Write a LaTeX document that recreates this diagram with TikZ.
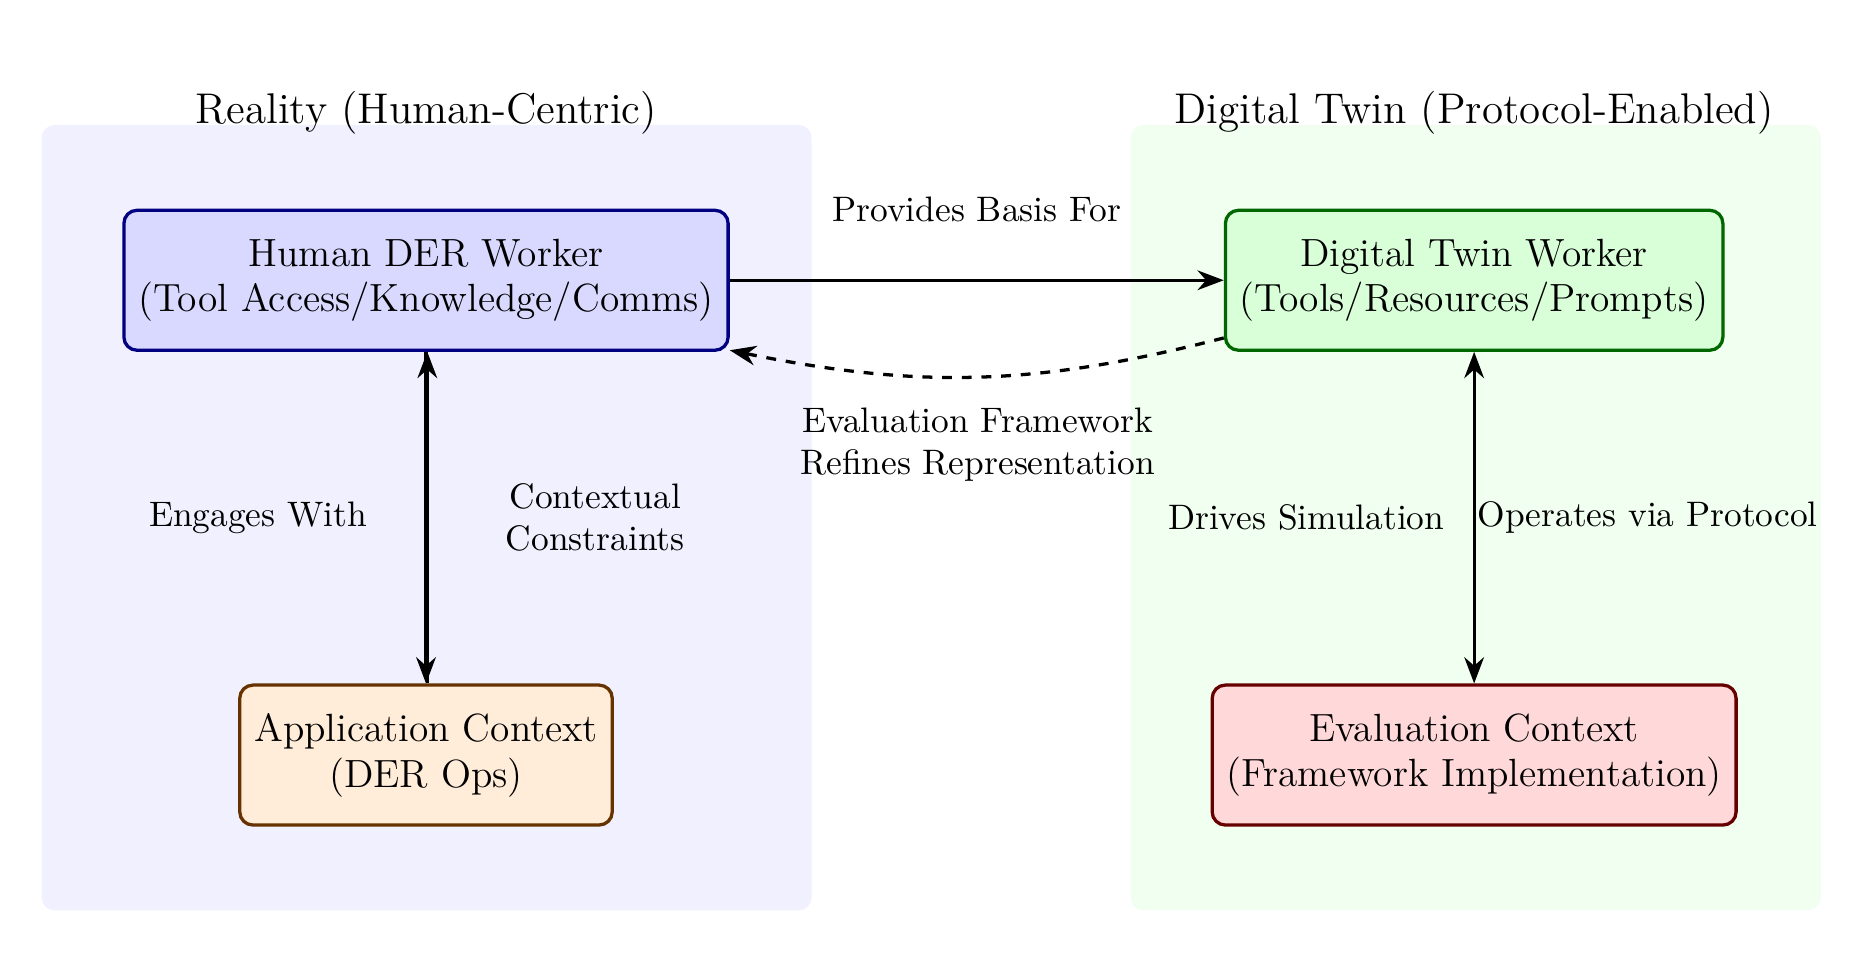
\documentclass[tikz,border=0pt]{standalone}
\usetikzlibrary{arrows.meta}
\begin{document}
\begin{tikzpicture}[
  box/.style={draw, rounded corners=4pt, line width=1pt, minimum height=1.5cm, inner xsep=4.4pt, align=center, font=\fontsize{12}{14}\selectfont},
  lbl/.style={font=\fontsize{10.8}{12.9}\selectfont, align=center},
  ttl/.style={font=\fontsize{13.1}{15.7}\selectfont},
  arr/.style={-{Stealth[length=8pt,width=6pt]}, line width=1pt},
  darr/.style={{Stealth[length=8pt,width=6pt]}-{Stealth[length=8pt,width=6pt]}, line width=1pt},
  bg/.style={rounded corners=4pt}
]
\useasboundingbox (0,0) rectangle (20,10.214);
% containers
\fill[bg, blue!6] (0.446,0.456) rectangle (8.699,8.875);
\fill[bg, green!6] (12.117,0.456) rectangle (19.515,8.875);
\node[ttl, anchor=base] (treal) at (4.57,8.89) {Reality (Human-Centric)};
\node[ttl, anchor=base] (tdt) at (15.80,8.89) {Digital Twin (Protocol-Enabled)};
% nodes
\node[box, fill=blue!15, draw=blue!50!black] (human) at (4.566,7.21) {Human DER Worker\\(Tool Access/Knowledge/Comms)};
\node[box, fill=green!15, draw=green!40!black] (dt) at (15.80,7.21) {Digital Twin Worker\\(Tools/Resources/Prompts)};
\node[box, fill=orange!15, draw=orange!40!black] (app) at (4.566,2.121) {Application Context\\(DER Ops)};
\node[box, fill=red!15, draw=red!40!black] (eval) at (15.80,2.121) {Evaluation Context\\(Framework Implementation)};
% connectors
\draw[arr] (human) -- node[lbl, yshift=0.76cm] {Provides Basis For} (dt);
\draw[arr, dashed] (dt) to[bend left=13] node[lbl, yshift=-0.73cm] {Evaluation Framework\\Refines Representation} (human);
\draw[arr] (human.south) -- node[lbl, xshift=-1.8cm] {Engages With} (app.north);
\draw[arr] ([xshift=0.4pt]app.north) -- node[lbl, xshift=1.8cm] {Contextual\\Constraints} ([xshift=0.4pt]human.south);
\draw[darr] (dt.south) -- node[lbl, xshift=-1.8cm] {Drives Simulation} node[lbl, xshift=1.86cm] {Operates via Protocol} (eval.north);
\end{tikzpicture}
\end{document}
